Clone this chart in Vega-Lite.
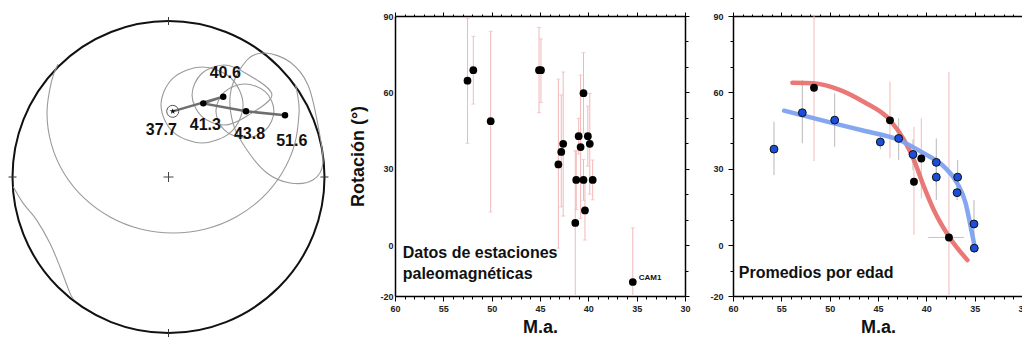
{
  "$schema": "https://vega.github.io/schema/vega-lite/v6.json",
  "background": "white",
  "padding": {"left": 3, "top": 11, "right": 0, "bottom": 0},
  "spacing": 15,
  "config": {
    "view": {"stroke": null},
    "axis": {"grid": false, "domainColor": "#000", "domainWidth": 1.5, "tickColor": "#000", "tickWidth": 1, "labelFont": "Liberation Sans", "labelFontWeight": "bold", "labelFontSize": 9, "labelColor": "#222", "titleFont": "Liberation Sans", "titleFontWeight": "bold", "titleColor": "#111", "labelOverlap": false, "labelFlush": false},
    "text": {"font": "Liberation Sans", "fontWeight": "bold", "color": "#111"}
  },
  "datasets": {
    "ellipses": [
      {"c": "E1", "i": 0, "X": 0.478, "Y": 0.462}, {"c": "E1", "i": 1, "X": 0.401, "Y": 0.289}, {"c": "E1", "i": 2, "X": 0.215, "Y": 0.218}, {"c": "E1", "i": 3, "X": 0.029, "Y": 0.289},
      {"c": "E1", "i": 4, "X": -0.048, "Y": 0.462}, {"c": "E1", "i": 5, "X": 0.029, "Y": 0.634}, {"c": "E1", "i": 6, "X": 0.215, "Y": 0.705}, {"c": "E1", "i": 7, "X": 0.401, "Y": 0.634},
      {"c": "E2", "i": 0, "X": 0.663, "Y": 0.526}, {"c": "E2", "i": 1, "X": 0.501, "Y": 0.39}, {"c": "E2", "i": 2, "X": 0.356, "Y": 0.333}, {"c": "E2", "i": 3, "X": 0.211, "Y": 0.39},
      {"c": "E2", "i": 4, "X": 0.151, "Y": 0.526}, {"c": "E2", "i": 5, "X": 0.211, "Y": 0.662}, {"c": "E2", "i": 6, "X": 0.356, "Y": 0.718}, {"c": "E2", "i": 7, "X": 0.501, "Y": 0.662},
      {"c": "E3", "i": 0, "X": 0.676, "Y": 0.423}, {"c": "E3", "i": 1, "X": 0.622, "Y": 0.301}, {"c": "E3", "i": 2, "X": 0.49, "Y": 0.25}, {"c": "E3", "i": 3, "X": 0.359, "Y": 0.301},
      {"c": "E3", "i": 4, "X": 0.304, "Y": 0.423}, {"c": "E3", "i": 5, "X": 0.359, "Y": 0.546}, {"c": "E3", "i": 6, "X": 0.49, "Y": 0.596}, {"c": "E3", "i": 7, "X": 0.622, "Y": 0.546},
      {"c": "E4", "i": 0, "X": 0.503, "Y": 0.75}, {"c": "E4", "i": 1, "X": 0.619, "Y": 0.795}, {"c": "E4", "i": 2, "X": 0.779, "Y": 0.737}, {"c": "E4", "i": 3, "X": 0.894, "Y": 0.59},
      {"c": "E4", "i": 4, "X": 0.958, "Y": 0.333}, {"c": "E4", "i": 5, "X": 0.99, "Y": 0.09}, {"c": "E4", "i": 6, "X": 0.926, "Y": -0.019}, {"c": "E4", "i": 7, "X": 0.779, "Y": -0.038},
      {"c": "E4", "i": 8, "X": 0.631, "Y": 0.026}, {"c": "E4", "i": 9, "X": 0.503, "Y": 0.173}, {"c": "E4", "i": 10, "X": 0.413, "Y": 0.346}, {"c": "E4", "i": 11, "X": 0.401, "Y": 0.558}
    ],
    "arcs": [
      {"c": "L", "i": 0, "X": -0.709, "Y": 0.723}, {"c": "L", "i": 1, "X": -0.751, "Y": 0.61}, {"c": "L", "i": 2, "X": -0.779, "Y": 0.41}, {"c": "L", "i": 3, "X": -0.751, "Y": 0.211},
      {"c": "L", "i": 4, "X": -0.671, "Y": 0.026}, {"c": "L", "i": 5, "X": -0.542, "Y": -0.134}, {"c": "L", "i": 6, "X": -0.375, "Y": -0.256}, {"c": "L", "i": 7, "X": -0.18, "Y": -0.333},
      {"c": "L", "i": 8, "X": 0.029, "Y": -0.359}, {"c": "L", "i": 9, "X": 0.238, "Y": -0.333}, {"c": "L", "i": 10, "X": 0.433, "Y": -0.256}, {"c": "L", "i": 11, "X": 0.6, "Y": -0.134},
      {"c": "L", "i": 12, "X": 0.728, "Y": 0.026}, {"c": "L", "i": 13, "X": 0.809, "Y": 0.211}, {"c": "L", "i": 14, "X": 0.837, "Y": 0.41}, {"c": "L", "i": 15, "X": 0.829, "Y": 0.517},
      {"c": "L", "i": 16, "X": 0.813, "Y": 0.596},
      {"c": "W", "i": 0, "X": -0.995, "Y": -0.062}, {"c": "W", "i": 1, "X": -0.931, "Y": -0.169}, {"c": "W", "i": 2, "X": -0.845, "Y": -0.276}, {"c": "W", "i": 3, "X": -0.76, "Y": -0.425},
      {"c": "W", "i": 4, "X": -0.696, "Y": -0.575}, {"c": "W", "i": 5, "X": -0.631, "Y": -0.746}, {"c": "W", "i": 6, "X": -0.61, "Y": -0.778}
    ],
    "means": [
      {"i": 0, "age": "37.7", "X": 0.027, "Y": 0.421, "lx": -0.046, "ly": 0.269},
      {"i": 1, "age": "40.6", "X": 0.351, "Y": 0.515, "lx": 0.364, "ly": 0.633},
      {"i": 2, "age": "41.3", "X": 0.223, "Y": 0.472, "lx": 0.236, "ly": 0.301},
      {"i": 3, "age": "43.8", "X": 0.497, "Y": 0.421, "lx": 0.519, "ly": 0.242},
      {"i": 4, "age": "51.6", "X": 0.747, "Y": 0.396, "lx": 0.79, "ly": 0.199}
    ],
    "stations": [
      {"age": 52.5, "rot": 64.6, "lo": 40, "hi": 89},
      {"age": 51.9, "rot": 68.7, "lo": 55.4, "hi": 82},
      {"age": 50.1, "rot": 48.7, "lo": 13, "hi": 84},
      {"age": 45.1, "rot": 68.7, "lo": 52, "hi": 85.5},
      {"age": 44.9, "rot": 68.7, "lo": 56, "hi": 81},
      {"age": 43.1, "rot": 31.7, "lo": -1.2, "hi": 65.2},
      {"age": 42.8, "rot": 36.6, "lo": 15, "hi": 59},
      {"age": 42.6, "rot": 39.8, "lo": 11.4, "hi": 68},
      {"age": 41.35, "rot": 8.7, "lo": -30, "hi": 37},
      {"age": 41.25, "rot": 25.6, "lo": 14, "hi": 37},
      {"age": 41.0, "rot": 42.8, "lo": 35.8, "hi": 49.8},
      {"age": 40.8, "rot": 38.5, "lo": 10.5, "hi": 66.8},
      {"age": 40.5, "rot": 59.7, "lo": 44, "hi": 75.6},
      {"age": 40.5, "rot": 25.6, "lo": 17.6, "hi": 33.6},
      {"age": 40.35, "rot": 13.6, "lo": 2, "hi": 25.2},
      {"age": 40.05, "rot": 42.8, "lo": 31, "hi": 54.6},
      {"age": 39.85, "rot": 39.8, "lo": 20, "hi": 59.6},
      {"age": 39.55, "rot": 25.6, "lo": 17.8, "hi": 33.4},
      {"age": 35.4, "rot": -14.5, "lo": -36, "hi": 6.8, "name": "CAM1"}
    ],
    "avg": [
      {"age": 55.76, "rot": 37.7, "lo": 27.5, "hi": 48.5, "grp": "blue"},
      {"age": 52.83, "rot": 52.0, "lo": 40, "hi": 64.9, "grp": "blue"},
      {"age": 49.48, "rot": 49.1, "lo": 38.6, "hi": 59.6, "grp": "blue"},
      {"age": 44.76, "rot": 40.5, "lo": 37.6, "hi": 43.9, "grp": "blue"},
      {"age": 42.86, "rot": 41.9, "lo": 33.4, "hi": 49.8, "grp": "blue"},
      {"age": 41.38, "rot": 35.6, "lo": 29.5, "hi": 41.5, "grp": "blue"},
      {"age": 38.97, "rot": 32.5, "lo": 23.5, "hi": 41.9, "grp": "blue"},
      {"age": 38.97, "rot": 26.7, "lo": 17.7, "hi": 35, "grp": "blue"},
      {"age": 36.76, "rot": 26.7, "lo": 20, "hi": 33.4, "grp": "blue"},
      {"age": 36.82, "rot": 20.6, "lo": 17.7, "hi": 23.5, "grp": "blue"},
      {"age": 35.07, "rot": 8.3, "lo": -1, "hi": 17.7, "grp": "blue"},
      {"age": 35.04, "rot": -1.2, "lo": -3, "hi": 0.6, "grp": "blue"},
      {"age": 51.62, "rot": 61.8, "lo": 33, "hi": 91, "grp": "black"},
      {"age": 43.76, "rot": 49.0, "lo": 34.1, "hi": 64.2, "grp": "black"},
      {"age": 41.28, "rot": 24.9, "lo": 4, "hi": 46.5, "grp": "black"},
      {"age": 40.52, "rot": 34.0, "lo": 18.4, "hi": 49.8, "grp": "black"},
      {"age": 37.66, "rot": 3.0, "lo": -62, "hi": 68.1, "grp": "black", "alo": 39.8, "ahi": 36.1}
    ],
    "fits": [
      {"fit": "red", "age": 53.86, "rot": 63.8}, {"fit": "red", "age": 51.72, "rot": 63.6}, {"fit": "red", "age": 48.97, "rot": 61.0}, {"fit": "red", "age": 46.45, "rot": 56.2},
      {"fit": "red", "age": 43.76, "rot": 49.1}, {"fit": "red", "age": 42.31, "rot": 41.3}, {"fit": "red", "age": 41.28, "rot": 33.4}, {"fit": "red", "age": 40.24, "rot": 22.9},
      {"fit": "red", "age": 39.14, "rot": 13.1}, {"fit": "red", "age": 37.65, "rot": 3.3}, {"fit": "red", "age": 35.75, "rot": -5.9},
      {"fit": "blue", "age": 54.72, "rot": 52.8}, {"fit": "blue", "age": 49.55, "rot": 47.8}, {"fit": "blue", "age": 46.45, "rot": 44.9}, {"fit": "blue", "age": 42.83, "rot": 41.3},
      {"fit": "blue", "age": 40.24, "rot": 36.0}, {"fit": "blue", "age": 38.17, "rot": 30.8}, {"fit": "blue", "age": 36.8, "rot": 24.3}, {"fit": "blue", "age": 35.93, "rot": 16.4},
      {"fit": "blue", "age": 35.41, "rot": 7.2}, {"fit": "blue", "age": 35.0, "rot": -0.6}
    ]
  },
  "hconcat": [
    {
      "width": 331,
      "height": 320,
      "encoding": {
        "x": {"field": "X", "type": "quantitative", "scale": {"domain": [-1.061, 1.061], "nice": false, "zero": false}, "axis": null},
        "y": {"field": "Y", "type": "quantitative", "scale": {"domain": [-1.019, 1.032], "nice": false, "zero": false}, "axis": null}
      },
      "layer": [
        {"data": {"values": [{"X": 0, "Y": 0}]}, "mark": {"type": "point", "shape": "circle", "size": 97344, "filled": false, "color": "#111", "strokeWidth": 2, "opacity": 1}},
        {"data": {"values": [{"X": 0, "Y": 1, "d": "v"}, {"X": 0, "Y": -1, "d": "v"}, {"X": 1, "Y": 0, "d": "h"}, {"X": -1, "Y": 0, "d": "h"}]},
         "mark": {"type": "point", "size": 64, "filled": false, "color": "#333", "strokeWidth": 1, "opacity": 1},
         "encoding": {"shape": {"field": "d", "type": "nominal", "scale": {"domain": ["v", "h"], "range": ["M0,-1L0,1", "M-1,0L1,0"]}, "legend": null}}},
        {"data": {"values": [{"X": 0, "Y": 0}]}, "mark": {"type": "point", "shape": "M-1,0L1,0M0,-1L0,1", "size": 100, "filled": false, "color": "#444", "strokeWidth": 1, "opacity": 1}},
        {"data": {"name": "ellipses"}, "mark": {"type": "line", "interpolate": "cardinal-closed", "color": "#9a9a9a", "strokeWidth": 1.1},
         "encoding": {"detail": {"field": "c"}, "order": {"field": "i", "type": "quantitative"}}},
        {"data": {"name": "arcs"}, "mark": {"type": "line", "interpolate": "cardinal", "color": "#9a9a9a", "strokeWidth": 1.1},
         "encoding": {"detail": {"field": "c"}, "order": {"field": "i", "type": "quantitative"}}},
        {"data": {"name": "means"}, "mark": {"type": "line", "color": "#6e6e6e", "strokeWidth": 2.5},
         "encoding": {"order": {"field": "i", "type": "quantitative"}}},
        {"data": {"name": "means"}, "transform": [{"filter": "datum.i === 0"}], "mark": {"type": "point", "shape": "circle", "size": 144, "filled": false, "color": "#555", "strokeWidth": 1, "opacity": 1}},
        {"data": {"name": "means"}, "transform": [{"filter": "datum.i === 0"}], "mark": {"type": "point", "shape": "M0,-1L0.22,-0.31L0.95,-0.31L0.36,0.12L0.59,0.81L0,0.38L-0.59,0.81L-0.36,0.12L-0.95,-0.31L-0.22,-0.31Z", "size": 40, "filled": true, "color": "#111", "opacity": 1}},
        {"data": {"name": "means"}, "transform": [{"filter": "datum.i > 0"}], "mark": {"type": "point", "shape": "circle", "size": 42, "filled": true, "color": "#000", "opacity": 1}},
        {"data": {"name": "means"}, "mark": {"type": "text", "fontSize": 16, "align": "center", "baseline": "alphabetic"},
         "encoding": {"x": {"field": "lx", "type": "quantitative"}, "y": {"field": "ly", "type": "quantitative"}, "text": {"field": "age"}}}
      ]
    },
    {
      "width": 290,
      "height": 280,
      "resolve": {"axis": {"x": "independent", "y": "independent"}},
      "layer": [
        {"data": {"name": "stations"}, "mark": {"type": "rule", "color": "#f2b8b8", "strokeWidth": 1, "clip": true},
         "encoding": {
           "x": {"field": "age", "type": "quantitative", "scale": {"domain": [30, 60], "reverse": true, "nice": false, "zero": false},
                 "axis": {"orient": "bottom", "values": [30,31,32,33,34,35,36,37,38,39,40,41,42,43,44,45,46,47,48,49,50,51,52,53,54,55,56,57,58,59,60], "labelExpr": "datum.value % 5 === 0 ? '' + datum.value : ''", "tickSize": {"condition": {"test": "datum.value % 5 === 0", "value": 5}, "value": 3}, "labelPadding": 3, "title": "M.a.", "titleFontSize": 18, "titlePadding": 5}},
           "y": {"field": "lo", "type": "quantitative", "scale": {"domain": [-20, 90], "nice": false, "zero": false},
                 "axis": {"orient": "left", "values": [-20,-10,0,10,20,30,40,50,60,70,80,90], "labelExpr": "(datum.value % 30 === 0 || datum.value === -20) ? '' + datum.value : ''", "tickSize": 0, "labelPadding": 2, "title": "Rotación (°)", "titleFontSize": 18, "titlePadding": 12}},
           "y2": {"field": "hi"}}},
        {"data": {"name": "stations"}, "mark": {"type": "tick", "orient": "horizontal", "size": 4, "thickness": 1, "color": "#f2b8b8", "clip": true},
         "encoding": {"x": {"field": "age", "type": "quantitative", "scale": {"domain": [30, 60], "reverse": true, "nice": false, "zero": false}, "axis": null},
                      "y": {"field": "hi", "type": "quantitative", "scale": {"domain": [-20, 90], "nice": false, "zero": false}, "axis": null}}},
        {"data": {"name": "stations"}, "mark": {"type": "tick", "orient": "horizontal", "size": 4, "thickness": 1, "color": "#f2b8b8", "clip": true},
         "encoding": {"x": {"field": "age", "type": "quantitative", "scale": {"domain": [30, 60], "reverse": true, "nice": false, "zero": false}, "axis": null},
                      "y": {"field": "lo", "type": "quantitative", "scale": {"domain": [-20, 90], "nice": false, "zero": false}, "axis": null}}},
        {"data": {"name": "stations"}, "mark": {"type": "point", "filled": true, "color": "#000", "size": 60, "opacity": 1},
         "encoding": {"x": {"field": "age", "type": "quantitative", "scale": {"domain": [30, 60], "reverse": true, "nice": false, "zero": false}, "axis": null},
                      "y": {"field": "rot", "type": "quantitative", "scale": {"domain": [-20, 90], "nice": false, "zero": false}, "axis": null}}},
        {"data": {"name": "stations"}, "transform": [{"filter": "datum.name"}], "mark": {"type": "text", "fontSize": 8, "align": "left", "baseline": "alphabetic", "dx": 6, "dy": -2},
         "encoding": {"x": {"field": "age", "type": "quantitative", "scale": {"domain": [30, 60], "reverse": true, "nice": false, "zero": false}, "axis": null},
                      "y": {"field": "rot", "type": "quantitative", "scale": {"domain": [-20, 90], "nice": false, "zero": false}, "axis": null},
                      "text": {"field": "name"}}},
        {"data": {"values": [{"age": 59.2, "rot": -5.1, "t": "Datos de estaciones\npaleomagnéticas"}]}, "mark": {"type": "text", "fontSize": 16, "align": "left", "baseline": "alphabetic", "lineBreak": "\n", "lineHeight": 21},
         "encoding": {"x": {"field": "age", "type": "quantitative", "scale": {"domain": [30, 60], "reverse": true, "nice": false, "zero": false}, "axis": null},
                      "y": {"field": "rot", "type": "quantitative", "scale": {"domain": [-20, 90], "nice": false, "zero": false}, "axis": null},
                      "text": {"field": "t"}}},
        {"data": {"values": [{"age": 45, "rot": 0}]}, "mark": {"type": "point", "opacity": 0},
         "encoding": {
           "x": {"field": "age", "type": "quantitative", "scale": {"domain": [30, 60], "reverse": true, "nice": false, "zero": false},
                 "axis": {"orient": "top", "values": [30,31,32,33,34,35,36,37,38,39,40,41,42,43,44,45,46,47,48,49,50,51,52,53,54,55,56,57,58,59,60], "labels": false, "tickSize": {"condition": {"test": "datum.value % 5 === 0", "value": 4}, "value": 2}, "title": null}},
           "y": {"field": "rot", "type": "quantitative", "scale": {"domain": [-20, 90], "nice": false, "zero": false},
                 "axis": {"orient": "right", "values": [-20,-10,0,10,20,30,40,50,60,70,80,90], "labels": false, "tickSize": {"condition": {"test": "datum.value % 30 === 0 || datum.value === -20", "value": 4}, "value": 3}, "title": null}}}}
      ]
    },
    {
      "width": 290,
      "height": 280,
      "resolve": {"axis": {"x": "independent", "y": "independent"}},
      "layer": [
        {"data": {"name": "avg"}, "transform": [{"filter": "datum.grp === 'blue'"}], "mark": {"type": "rule", "color": "#b8b8b8", "strokeWidth": 1, "clip": true},
         "encoding": {
           "x": {"field": "age", "type": "quantitative", "scale": {"domain": [30, 60], "reverse": true, "nice": false, "zero": false},
                 "axis": {"orient": "bottom", "values": [30,31,32,33,34,35,36,37,38,39,40,41,42,43,44,45,46,47,48,49,50,51,52,53,54,55,56,57,58,59,60], "labelExpr": "datum.value % 5 === 0 ? '' + datum.value : ''", "tickSize": {"condition": {"test": "datum.value % 5 === 0", "value": 5}, "value": 3}, "labelPadding": 3, "title": "M.a.", "titleFontSize": 18, "titlePadding": 5}},
           "y": {"field": "lo", "type": "quantitative", "scale": {"domain": [-20, 90], "nice": false, "zero": false},
                 "axis": {"orient": "left", "values": [-20,-10,0,10,20,30,40,50,60,70,80,90], "labelExpr": "(datum.value % 30 === 0 || datum.value === -20) ? '' + datum.value : ''", "tickSize": {"condition": {"test": "datum.value % 30 === 0 || datum.value === -20", "value": 5}, "value": 3}, "labelPadding": 5, "title": null, "minExtent": 27}},
           "y2": {"field": "hi"}}},
        {"data": {"name": "avg"}, "transform": [{"filter": "datum.grp === 'black'"}], "mark": {"type": "rule", "color": "#f2b8b8", "strokeWidth": 1, "clip": true},
         "encoding": {"x": {"field": "age", "type": "quantitative", "scale": {"domain": [30, 60], "reverse": true, "nice": false, "zero": false}, "axis": null},
                      "y": {"field": "lo", "type": "quantitative", "scale": {"domain": [-20, 90], "nice": false, "zero": false}, "axis": null},
                      "y2": {"field": "hi"}}},
        {"data": {"name": "avg"}, "transform": [{"filter": "datum.alo != null"}], "mark": {"type": "rule", "color": "#e6b4b4", "strokeWidth": 1, "clip": true},
         "encoding": {"x": {"field": "alo", "type": "quantitative", "scale": {"domain": [30, 60], "reverse": true, "nice": false, "zero": false}, "axis": null},
                      "x2": {"field": "ahi"},
                      "y": {"field": "rot", "type": "quantitative", "scale": {"domain": [-20, 90], "nice": false, "zero": false}, "axis": null}}},
        {"mark": {"type": "rule", "color": "#111", "strokeWidth": 1},
         "encoding": {"y": {"datum": 0, "type": "quantitative", "scale": {"domain": [-20, 90], "nice": false, "zero": false}, "axis": null}}},
        {"data": {"name": "fits"}, "transform": [{"filter": "datum.fit === 'red'"}], "mark": {"type": "line", "interpolate": "monotone", "color": "#e8716f", "strokeWidth": 4.5, "strokeCap": "round", "opacity": 0.95},
         "encoding": {"x": {"field": "age", "type": "quantitative", "scale": {"domain": [30, 60], "reverse": true, "nice": false, "zero": false}, "axis": null},
                      "y": {"field": "rot", "type": "quantitative", "scale": {"domain": [-20, 90], "nice": false, "zero": false}, "axis": null},
                      "order": {"field": "age", "type": "quantitative", "sort": "descending"}}},
        {"data": {"name": "fits"}, "transform": [{"filter": "datum.fit === 'blue'"}], "mark": {"type": "line", "interpolate": "monotone", "color": "#7ea2ee", "strokeWidth": 4.5, "strokeCap": "round", "opacity": 0.95},
         "encoding": {"x": {"field": "age", "type": "quantitative", "scale": {"domain": [30, 60], "reverse": true, "nice": false, "zero": false}, "axis": null},
                      "y": {"field": "rot", "type": "quantitative", "scale": {"domain": [-20, 90], "nice": false, "zero": false}, "axis": null},
                      "order": {"field": "age", "type": "quantitative", "sort": "descending"}}},
        {"data": {"name": "avg"}, "transform": [{"filter": "datum.grp === 'blue'"}], "mark": {"type": "point", "filled": true, "color": "#1d4ed8", "stroke": "#111", "strokeWidth": 1, "size": 62, "opacity": 1},
         "encoding": {"x": {"field": "age", "type": "quantitative", "scale": {"domain": [30, 60], "reverse": true, "nice": false, "zero": false}, "axis": null},
                      "y": {"field": "rot", "type": "quantitative", "scale": {"domain": [-20, 90], "nice": false, "zero": false}, "axis": null}}},
        {"data": {"name": "avg"}, "transform": [{"filter": "datum.grp === 'black'"}], "mark": {"type": "point", "filled": true, "color": "#000", "size": 62, "opacity": 1},
         "encoding": {"x": {"field": "age", "type": "quantitative", "scale": {"domain": [30, 60], "reverse": true, "nice": false, "zero": false}, "axis": null},
                      "y": {"field": "rot", "type": "quantitative", "scale": {"domain": [-20, 90], "nice": false, "zero": false}, "axis": null}}},
        {"data": {"values": [{"age": 59.4, "rot": -12.9}]}, "mark": {"type": "text", "text": "Promedios por edad", "fontSize": 16, "align": "left", "baseline": "alphabetic"},
         "encoding": {"x": {"field": "age", "type": "quantitative", "scale": {"domain": [30, 60], "reverse": true, "nice": false, "zero": false}, "axis": null},
                      "y": {"field": "rot", "type": "quantitative", "scale": {"domain": [-20, 90], "nice": false, "zero": false}, "axis": null}}},
        {"data": {"values": [{"age": 45, "rot": 0}]}, "mark": {"type": "point", "opacity": 0},
         "encoding": {
           "x": {"field": "age", "type": "quantitative", "scale": {"domain": [30, 60], "reverse": true, "nice": false, "zero": false},
                 "axis": {"orient": "top", "values": [30,31,32,33,34,35,36,37,38,39,40,41,42,43,44,45,46,47,48,49,50,51,52,53,54,55,56,57,58,59,60], "labels": false, "tickSize": {"condition": {"test": "datum.value % 5 === 0", "value": 4}, "value": 2}, "title": null}},
           "y": {"field": "rot", "type": "quantitative", "scale": {"domain": [-20, 90], "nice": false, "zero": false},
                 "axis": {"orient": "right", "values": [-20,-10,0,10,20,30,40,50,60,70,80,90], "labels": false, "tickSize": {"condition": {"test": "datum.value % 30 === 0 || datum.value === -20", "value": 4}, "value": 3}, "title": null}}}}
      ]
    }
  ]
}
